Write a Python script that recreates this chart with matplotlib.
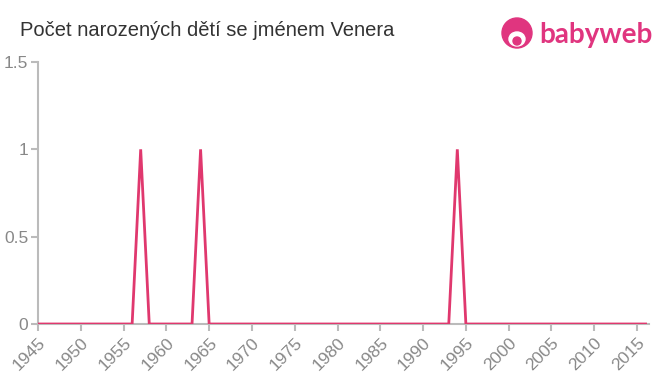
import matplotlib
matplotlib.use("Agg")
import matplotlib.pyplot as plt
from matplotlib.patches import Ellipse

plt.rcParams['font.family'] = ['Liberation Sans', 'DejaVu Sans']

years = list(range(1945, 2017))
spike_years = [1957, 1964, 1994]
spike_values = [1, 1, 1]
counts = [spike_values[spike_years.index(y)] if y in spike_years else 0 for y in years]

title = "Počet narozených dětí se jménem Venera"
xticks = list(range(1945, 2016, 5))
yticks = [0, 0.5, 1, 1.5]
ytick_labels = ["0", "0.5", "1", "1.5"]

line_color = "#e0386e"
axis_color = "#bbbbbb"
label_color = "#888888"
logo_color = "#e0357f"

fig = plt.figure(figsize=(6.6, 3.75), dpi=100)
ax = fig.add_axes([38/660, 1 - 324/375, (649-38)/660, (324-62)/375])
ax.plot(years, counts, color=line_color, lw=2, solid_joinstyle='miter', zorder=3)
ax.set_xlim(1945, 2016.4)
ax.set_ylim(0, 1.5)
ax.set_xticks(xticks)
ax.set_xticklabels([str(x) for x in xticks], rotation=45, ha='right', va='top',
                   rotation_mode='anchor', fontsize=12.5, color=label_color)
ax.set_yticks(yticks)
ax.set_yticklabels(ytick_labels, fontsize=12.5, color=label_color)
for s in ['top', 'right']:
    ax.spines[s].set_visible(False)
for s in ['left', 'bottom']:
    ax.spines[s].set_color(axis_color)
    ax.spines[s].set_linewidth(1.5)
ax.tick_params(axis='both', colors=axis_color, length=5, width=1.5, labelcolor=label_color)
ax.tick_params(axis='y', pad=2)
ax.tick_params(axis='x', pad=3)

fig.text(20/660, 1 - 31/375, title, fontsize=14.5, color="#333333", ha='left', va='center')

# logo
lx, ly = 517/660, 1 - 33/375
fig.patches.append(Ellipse((lx, ly), 30/660, 30/375, transform=fig.transFigure,
                           color=logo_color, zorder=5))
fig.patches.append(Ellipse((lx, ly - 6/375), 16/660, 14/375, transform=fig.transFigure,
                           color="white", zorder=6))
fig.patches.append(Ellipse((lx, ly - 8/375), 8/660, 8/375, transform=fig.transFigure,
                           color=logo_color, zorder=7))
fig.text(539/660, 1 - 35/375, "babyweb", fontsize=20, color=logo_color,
         ha='left', va='center', fontweight='bold', family=['Lato', 'DejaVu Sans'])

fig.savefig("out.png", dpi=100)
